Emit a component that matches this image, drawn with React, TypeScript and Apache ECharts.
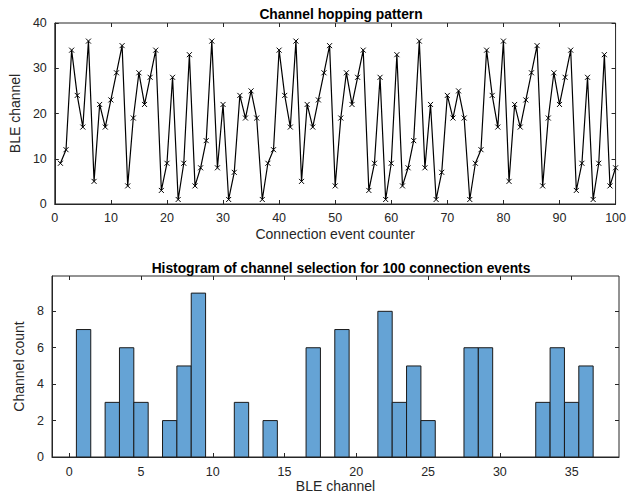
import React, { useEffect, useRef } from "react";
import * as echarts from "echarts";

const hopCounter: number[] = Array.from({ length: 100 }, (_, i) => i + 1);
const hopChannel: number[] = [
  9, 12, 34, 24, 17, 36, 5, 22, 17, 23, 29, 35, 4, 19, 29, 22, 28, 34, 3, 9,
  28, 1, 9, 33, 4, 8, 14, 36, 8, 22, 1, 7, 24, 19, 25, 19, 1,
  9, 12, 34, 24, 17, 36, 5, 22, 17, 23, 29, 35, 4, 19, 29, 22, 28, 34, 3, 9,
  28, 1, 9, 33, 4, 8, 14, 36, 8, 22, 1, 7, 24, 19, 25, 19, 1,
  9, 12, 34, 24, 17, 36, 5, 22, 17, 23, 29, 35, 4, 19, 29, 22, 28, 34, 3, 9,
  28, 1, 9, 33, 4, 8,
];

const histChannels: number[] = [1, 3, 4, 5, 7, 8, 9, 12, 14, 17, 19, 22, 23, 24, 25, 28, 29, 33, 34, 35, 36];
const histCounts: number[] = [7, 3, 6, 3, 2, 5, 9, 3, 2, 6, 7, 8, 3, 5, 2, 6, 6, 3, 6, 3, 5];

const histXTicks: number[] = [0, 5, 10, 15, 20, 25, 30, 35];
const histYTicks: number[] = [0, 2, 4, 6, 8];

const FONT = "'Liberation Sans', Arial, Helvetica, sans-serif";
const AX = "#262626";

export default function App() {
  const ref = useRef<HTMLDivElement>(null);
  useEffect(() => {
    document.body.style.margin = "0";
    if (!ref.current) return;
    const chart = echarts.init(ref.current, undefined, { renderer: "svg" });
    const labelStyle = { color: AX, fontSize: 12.5, fontFamily: FONT };
    const nameStyle = { color: AX, fontSize: 14, fontFamily: FONT };
    const tickIn = { show: true, inside: true, length: 4, lineStyle: { color: AX } };
    const axLine = { show: true, onZero: false, lineStyle: { color: AX } };
    const titleStyle = { fontSize: 13.8, fontWeight: "bold", color: "#000", fontFamily: FONT };
    const option: any = {
      animation: false,
      backgroundColor: "#ffffff",
      textStyle: { fontFamily: FONT },
      title: [
        { text: "Channel hopping pattern", left: 336, top: 2, textAlign: "center", textStyle: titleStyle },
        {
          text: "Histogram of channel selection for 100 connection events",
          left: 336, top: 256, textAlign: "center", textStyle: titleStyle,
        },
      ],
      grid: [
        { left: 51, top: 23, width: 568, height: 181, show: true, borderColor: AX, borderWidth: 1 },
        { left: 52, top: 276, width: 567, height: 181, show: true, borderColor: AX, borderWidth: 1 },
      ],
      xAxis: [
        {
          type: "value", gridIndex: 0, min: 0, max: 100, interval: 10, position: "bottom",
          axisLine: axLine, axisTick: tickIn,
          splitLine: { show: false }, axisLabel: { ...labelStyle, margin: 7 },
          name: "Connection event counter", nameLocation: "middle", nameGap: 23, nameTextStyle: nameStyle,
        },
        {
          type: "value", gridIndex: 0, min: 0, max: 100, interval: 10, position: "top",
          axisLine: { show: false, onZero: false }, axisTick: tickIn, splitLine: { show: false }, axisLabel: { show: false },
        },
        {
          type: "value", gridIndex: 1, min: -1.2, max: 38.3, position: "bottom",
          axisLine: axLine,
          axisTick: { ...tickIn, customValues: histXTicks },
          splitLine: { show: false },
          axisLabel: { ...labelStyle, margin: 8, customValues: histXTicks },
          name: "BLE channel", nameLocation: "middle", nameGap: 22, nameTextStyle: nameStyle,
        },
        {
          type: "value", gridIndex: 1, min: -1.2, max: 38.3, position: "top",
          axisLine: { show: false, onZero: false }, axisTick: { ...tickIn, customValues: histXTicks },
          splitLine: { show: false }, axisLabel: { show: false },
        },
      ],
      yAxis: [
        {
          type: "value", gridIndex: 0, min: 0, max: 40, interval: 10, position: "left",
          axisLine: axLine, axisTick: tickIn,
          splitLine: { show: false }, axisLabel: { ...labelStyle, margin: 8 },
          name: "BLE channel", nameLocation: "middle", nameGap: 26, nameTextStyle: nameStyle,
        },
        {
          type: "value", gridIndex: 0, min: 0, max: 40, interval: 10, position: "right",
          axisLine: { show: false, onZero: false }, axisTick: tickIn, splitLine: { show: false }, axisLabel: { show: false },
        },
        {
          type: "value", gridIndex: 1, min: 0, max: 9.94, position: "left",
          axisLine: axLine,
          axisTick: { ...tickIn, customValues: histYTicks },
          splitLine: { show: false },
          axisLabel: { ...labelStyle, margin: 8, customValues: histYTicks },
          name: "Channel count", nameLocation: "middle", nameGap: 20, nameTextStyle: nameStyle,
        },
        {
          type: "value", gridIndex: 1, min: 0, max: 9.94, position: "right",
          axisLine: { show: false, onZero: false }, axisTick: { ...tickIn, customValues: histYTicks },
          splitLine: { show: false }, axisLabel: { show: false },
        },
      ],
      series: [
        {
          type: "line",
          xAxisIndex: 0,
          yAxisIndex: 0,
          data: hopCounter.map((x, i) => [x, hopChannel[i]]),
          symbol: "path://M0,0L10,10M10,0L0,10",
          symbolSize: 5,
          showAllSymbol: true,
          lineStyle: { color: "#000", width: 1.2 },
          itemStyle: { color: "rgba(0,0,0,0)", borderColor: "#000", borderWidth: 1 },
          emphasis: { disabled: true },
        },
        {
          type: "custom",
          xAxisIndex: 2,
          yAxisIndex: 2,
          data: histChannels.map((c, i) => [c, histCounts[i]]),
          renderItem: (params: any, api: any) => {
            const c = api.value(0);
            const n = api.value(1);
            const p0 = api.coord([c - 0.5, n]);
            const p1 = api.coord([c + 0.5, 0]);
            return {
              type: "rect",
              shape: { x: p0[0], y: p0[1], width: p1[0] - p0[0], height: p1[1] - p0[1] },
              style: { fill: "#65a3d5", stroke: "#1a1a1a", lineWidth: 1 },
            };
          },
        },
      ],
    };
    chart.setOption(option);
    return () => chart.dispose();
  }, []);
  return <div ref={ref} style={{ width: 629, height: 494 }} />;
}
